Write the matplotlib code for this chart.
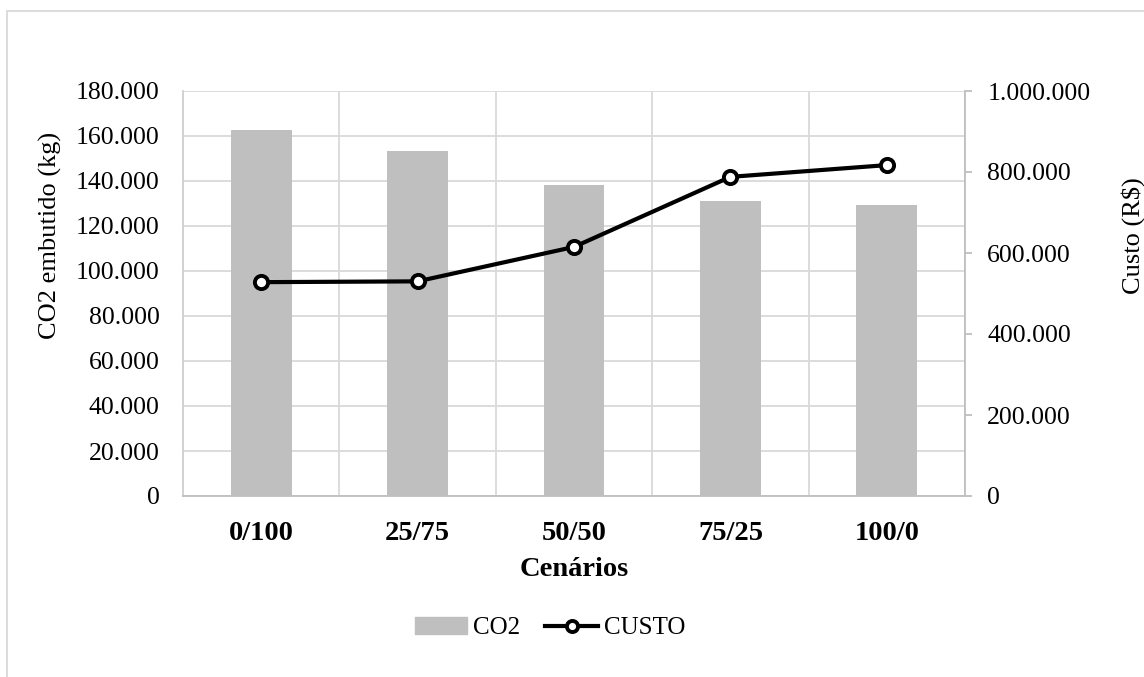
import matplotlib.pyplot as plt
from matplotlib.ticker import FuncFormatter
from matplotlib.lines import Line2D
from matplotlib.patches import Patch, Rectangle
import numpy as np

# Dados -----
cenarios = ['0/100', '25/75', '50/50', '75/25', '100/0']
co2 = [162700, 153200, 138300, 131300, 129400]       # kg
custo = [528000, 530000, 615000, 788000, 817000]     # R$

plt.rcParams['font.family'] = ['Liberation Serif', 'DejaVu Serif']

def milhar(v, pos):
    # separador de milhar com ponto
    return '{:,.0f}'.format(v).replace(',', '.')

fig = plt.figure(figsize=(11.44, 6.77), dpi=100)
ax = fig.add_axes([183/1144, 1 - 496/677, (965-183)/1144, (496-91)/677])
ax2 = ax.twinx()

x = np.arange(len(cenarios))
ax.bar(x, co2, width=0.39, color='#bfbfbf', zorder=2)
ax2.plot(x, custo, color='black', lw=3, marker='o', ms=9.5, mfc='white',
         mec='black', mew=2.8, zorder=3)

ax.set_xlim(-0.5, len(cenarios) - 0.5)
ax.set_ylim(0, 180000)
ax.set_yticks(np.arange(0, 180001, 20000))
ax.yaxis.set_major_formatter(FuncFormatter(milhar))
ax2.set_ylim(0, 1000000)
ax2.set_yticks(np.arange(0, 1000001, 200000))
ax2.yaxis.set_major_formatter(FuncFormatter(milhar))

# grade: horizontais a cada 20.000 e verticais entre categorias
ax.set_xticks(x)
ax.set_xticks(np.arange(-0.5, len(cenarios), 1), minor=True)
ax.grid(True, which='major', axis='y', color='#d9d9d9', lw=1.3, zorder=0)
ax.grid(True, which='minor', axis='x', color='#d9d9d9', lw=1.3, zorder=0)
ax.set_axisbelow(True)

ax.set_xticklabels(cenarios, fontsize=20.5, fontweight='bold')
ax.tick_params(axis='x', which='both', length=0, pad=18)
ax.tick_params(axis='y', length=0, labelsize=18.5, pad=17)
ax2.tick_params(axis='y', length=5, width=1.3, color='#bfbfbf', labelsize=18.5, pad=11)

for a in (ax, ax2):
    a.spines['top'].set_visible(False)
ax.spines['right'].set_visible(False)
ax2.spines['left'].set_visible(False)
ax2.spines['bottom'].set_visible(False)
ax.spines['left'].set_color('#d0d0d0')
ax.spines['bottom'].set_color('#bfbfbf')
ax2.spines['right'].set_color('#bfbfbf')
for a in (ax, ax2):
    for s in a.spines.values():
        s.set_linewidth(1.3)

ax.set_xlabel('Cenários', fontsize=20.5, fontweight='bold', labelpad=8)
ax.set_ylabel('CO2 embutido (kg)', fontsize=19, labelpad=10)
ax2.set_ylabel('Custo (R$)', fontsize=19, labelpad=22)
# títulos dos eixos y um pouco acima do centro
ax.yaxis.label.set_y(0.644)
ax2.yaxis.label.set_y(0.644)

handles = [Patch(color='#bfbfbf'),
           Line2D([], [], color='black', lw=3, marker='o', ms=8, mfc='white',
                  mec='black', mew=2.8)]
fig.legend(handles, ['CO2', 'CUSTO'], loc='center', bbox_to_anchor=(550/1144, 1 - 628/677),
           ncol=2, frameon=False, fontsize=18, handlelength=2.1, handletextpad=0.25,
           columnspacing=1.0)

# moldura externa
fig.patches.append(Rectangle((7/1144, -0.1), 1.2, 1 - 11/677 + 0.1, transform=fig.transFigure,
                             fill=False, ec='#d9d9d9', lw=1.3))

fig.savefig('out.png', dpi=100)
